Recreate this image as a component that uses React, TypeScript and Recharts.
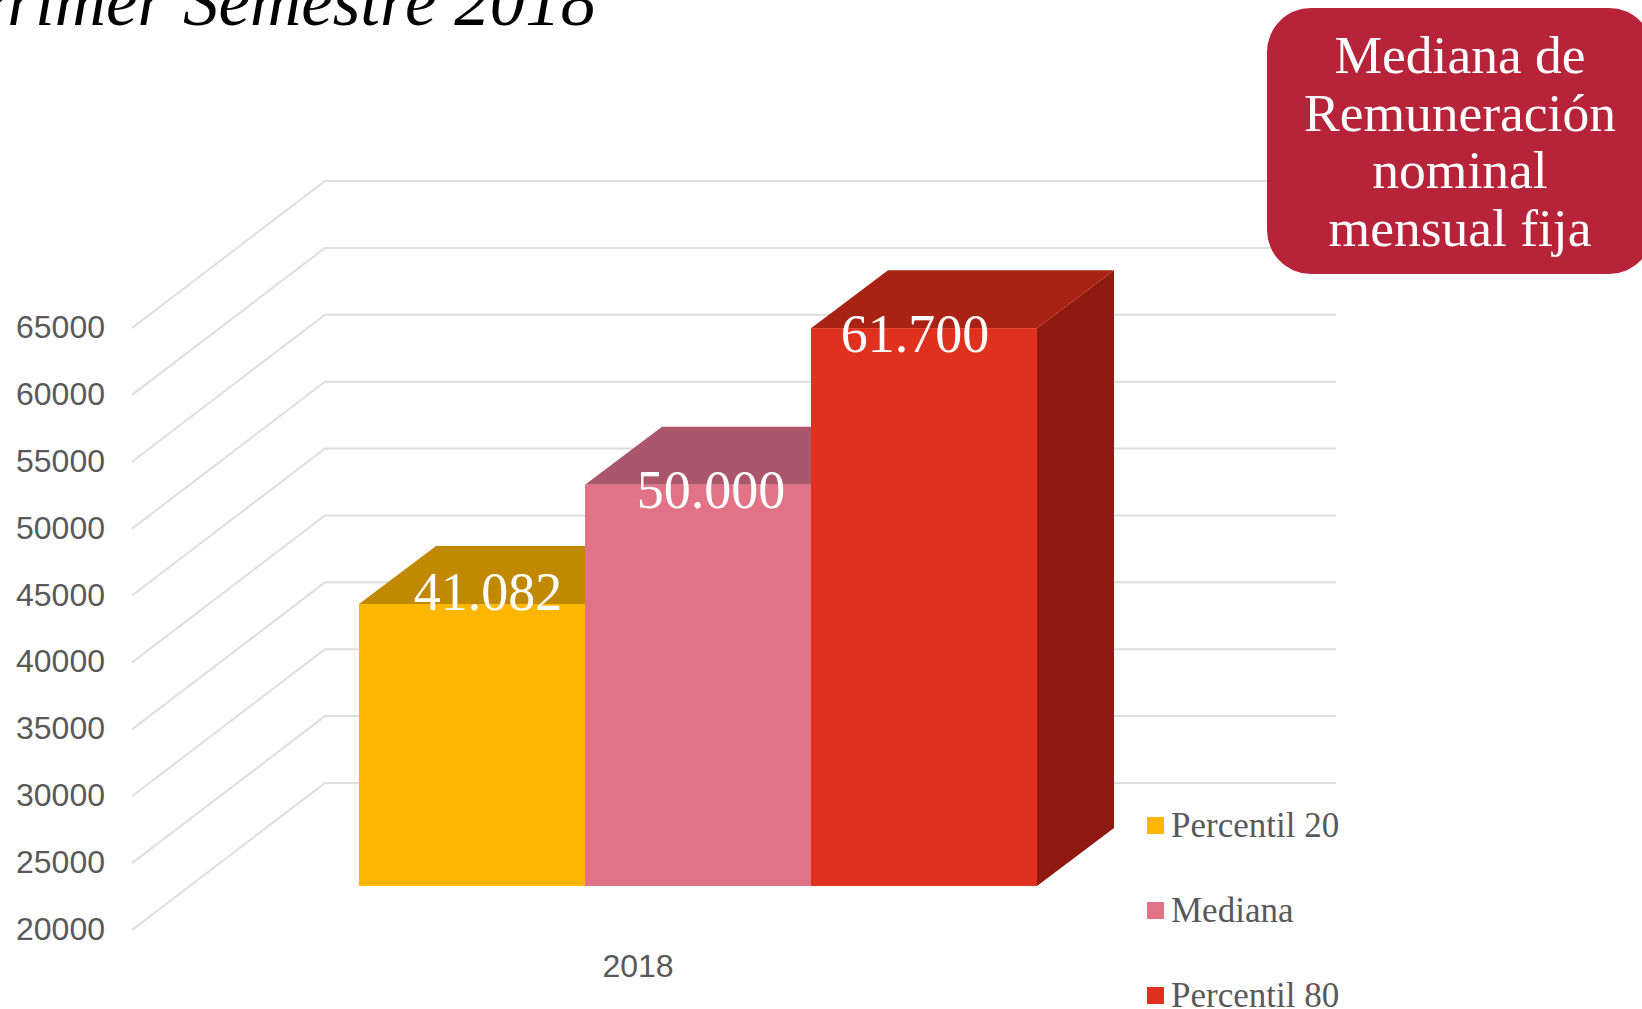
import { BarChart, Bar, XAxis, YAxis, CartesianGrid, Legend, LabelList } from "recharts"

const CATEGORIES = ["2018"]
const PERCENTIL_20 = [41082]
const MEDIANA = [50000]
const PERCENTIL_80 = [61700]
const Y_TICKS = [20000, 25000, 30000, 35000, 40000, 45000, 50000, 55000, 60000, 65000]
const BADGE_LINES = ["Mediana de", "Remuneración", "nominal", "mensual fija"]
const TITLE = "Primer Semestre 2018"

const chartData = CATEGORIES.map((category, i) => ({
  category,
  p20: PERCENTIL_20[i],
  mediana: MEDIANA[i],
  p80: PERCENTIL_80[i],
}))

const SERIF = "'Liberation Serif', serif"
const SANS = "'Liberation Sans', sans-serif"
const GREY = "#595959"
const DEPTH_X = 77
const DEPTH_Y = 58
const WALL_X = 193
const WALL_Y = 147
const WALL_LIFT = 103
const PLOT_LEFT = 132
const GRID_RIGHT = 1336

const SERIES = [
  { key: "p20", name: "Percentil 20", front: "#FFB600", top: "#C08900", side: "#A87800", labelDx: 16, labelDy: 6 },
  { key: "mediana", name: "Mediana", front: "#E27386", top: "#AB566B", side: "#8F4858", labelDx: 13, labelDy: 23 },
  { key: "p80", name: "Percentil 80", front: "#E0301E", top: "#A82314", side: "#8E1A0F", labelDx: -9, labelDy: 24 },
]

function formatValue(v: number) {
  return String(v).replace(/\B(?=(\d{3})+$)/g, ".")
}

function Box3D(props: any, face: (typeof SERIES)[number]) {
  const { x, y, width, height } = props
  const r = x + width
  const b = y + height
  return (
    <g>
      <polygon
        points={`${x},${y} ${x + DEPTH_X},${y - DEPTH_Y} ${r + DEPTH_X},${y - DEPTH_Y} ${r},${y}`}
        fill={face.top}
      />
      <polygon
        points={`${r},${y} ${r + DEPTH_X},${y - DEPTH_Y} ${r + DEPTH_X},${b - DEPTH_Y} ${r},${b}`}
        fill={face.side}
      />
      <rect x={x} y={y} width={width} height={height} fill={face.front} />
    </g>
  )
}

function GridLine(props: any) {
  const y = props.y1 - WALL_LIFT
  const backX = PLOT_LEFT + WALL_X
  return (
    <polyline
      key={props.key}
      points={`${PLOT_LEFT},${y + WALL_Y} ${backX},${y} ${GRID_RIGHT},${y}`}
      fill="none"
      stroke="#DEDEDE"
      strokeWidth={2}
    />
  )
}

function YTick(props: any) {
  return (
    <text x={105} y={props.y + 43} textAnchor="end" dominantBaseline="central" fontFamily={SANS} fontSize={32} fill={GREY}>
      {props.payload.value}
    </text>
  )
}

function XTick(props: any) {
  return (
    <text x={props.x - 60} y={966} textAnchor="middle" dominantBaseline="central" fontFamily={SANS} fontSize={32} fill={GREY}>
      {props.payload.value}
    </text>
  )
}

function LegendList() {
  return (
    <div>
      {SERIES.map((s) => (
        <div key={s.key} style={{ display: "flex", alignItems: "center", height: 85 }}>
          <span style={{ width: 17, height: 17, background: s.front, marginRight: 7 }} />
          <span style={{ fontFamily: SERIF, fontSize: 35, color: GREY, whiteSpace: "nowrap" }}>{s.name}</span>
        </div>
      ))}
    </div>
  )
}

export default function App() {
  return (
    <div style={{ position: "absolute", left: 0, top: 0, width: 1642, height: 1009, overflow: "hidden", background: "#fff" }}>
      <BarChart
        width={1642}
        height={1009}
        data={chartData}
        margin={{ top: 284, right: 378, bottom: 0, left: 0 }}
        barCategoryGap={227}
        barGap={0}
      >
        <CartesianGrid horizontal={GridLine} vertical={false} />
        <XAxis dataKey="category" height={123} axisLine={false} tickLine={false} tick={XTick} />
        <YAxis
          width={132}
          domain={[20000, 65000]}
          ticks={Y_TICKS}
          interval={0}
          axisLine={false}
          tickLine={false}
          tick={YTick}
        />
        {SERIES.map((s) => (
          <Bar
            key={s.key}
            dataKey={s.key}
            name={s.name}
            fill={s.front}
            isAnimationActive={false}
            shape={(p: any) => Box3D(p, s)}
          >
            <LabelList
              dataKey={s.key}
              content={(p: any) => (
                <text
                  x={p.x + p.width / 2 + s.labelDx}
                  y={p.y + s.labelDy}
                  textAnchor="middle"
                  fontFamily={SERIF}
                  fontSize={54}
                  fill="#fff"
                >
                  {formatValue(p.value)}
                </text>
              )}
            />
          </Bar>
        ))}
        <Legend
          layout="vertical"
          align="center"
          verticalAlign="middle"
          content={LegendList}
          wrapperStyle={{ position: "absolute", left: 1147, top: 783, width: 260, bottom: "auto", right: "auto" }}
        />
      </BarChart>
      <div
        style={{
          position: "absolute",
          left: -36,
          top: 21,
          transform: "translateY(-78%)",
          fontFamily: SERIF,
          fontStyle: "italic",
          fontSize: 71,
          lineHeight: 1,
          whiteSpace: "nowrap",
          color: "#000",
        }}
      >
        {TITLE}
      </div>
      <div
        style={{
          position: "absolute",
          left: 1267,
          top: 8,
          width: 386,
          height: 266,
          borderRadius: 44,
          background: "#B72338",
          color: "#fff",
          fontFamily: SERIF,
          fontSize: 53.5,
          lineHeight: "57.5px",
          textAlign: "center",
          paddingTop: 19,
          boxSizing: "border-box",
        }}
      >
        {BADGE_LINES.map((line) => (
          <div key={line}>{line}</div>
        ))}
      </div>
    </div>
  )
}
